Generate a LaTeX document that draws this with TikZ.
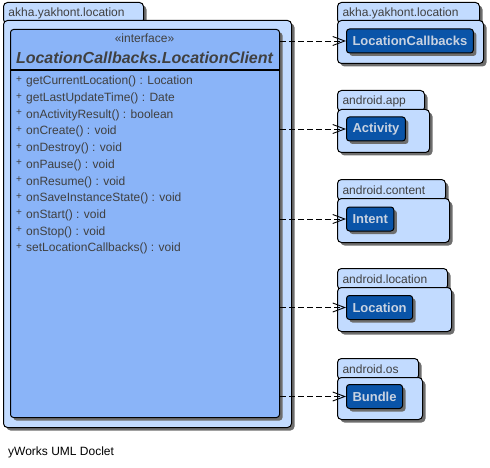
\documentclass[tikz,border=0pt]{standalone}
\usepackage{fontspec}
\setmainfont{Liberation Sans}
\usepackage{xcolor}
\usepackage{tikz}
\usetikzlibrary{shapes,arrows.meta,positioning,calc,shadows}
\definecolor{pkgcolor}{RGB}{194,219,255}
\definecolor{ifacecolor}{RGB}{138,180,248}
\definecolor{refcolor}{RGB}{10,84,168}
\definecolor{reftext}{RGB}{200,210,225}
\definecolor{textgray}{RGB}{64,64,64}
\definecolor{shadowgray}{RGB}{110,110,110}
\newcommand{\plusmark}{\makebox[10pt][l]{\raisebox{2.5pt}{\fontsize{10}{10}\selectfont +}}}

\begin{document}
\begin{tikzpicture}[
    x=1pt, y=-1pt,
    shade/.style={drop shadow={shadow xshift=3pt, shadow yshift=-3pt, fill=shadowgray, opacity=1}},
    pkgtab/.style={rectangle, draw, line width=1pt, fill=pkgcolor, shade, rounded corners=4pt, anchor=north west, minimum height=21pt, text width=#1, inner xsep=5pt, inner ysep=0pt, align=left, text=textgray, font=\fontsize{12}{12}\selectfont},
    pkgbody/.style={rectangle, draw, line width=1pt, fill=pkgcolor, shade, rounded corners=4pt, anchor=north west, inner sep=0pt},
    iface/.style={rectangle, draw, line width=1pt, fill=ifacecolor, shade, rounded corners=3pt, anchor=north west, inner sep=0pt},
    refbox/.style={rectangle, draw, line width=1pt, fill=refcolor, shade, rounded corners=3pt, anchor=west, minimum height=24pt, inner xsep=6pt, inner ysep=0pt, text=reftext, font=\fontsize{13}{13}\selectfont\bfseries},
    label/.style={inner sep=0pt, text=textgray},
    dep/.style={-{Straight Barb[length=12pt,width=9pt]}, dash pattern=on 6pt off 3pt, line width=0.9pt}
]
\useasboundingbox (0,0) rectangle (490,468);

% packages (tabs first, bodies over them)
\node[pkgtab=130pt] (tab0) at (3,2) {akha.yakhont.location};
\node[pkgtab=132pt] (tab1) at (337,2) {akha.yakhont.location};
\node[pkgtab=77pt] (tab2) at (337,90) {android.app};
\node[pkgtab=98pt] (tab3) at (337,179) {android.content};
\node[pkgtab=100pt] (tab4) at (337,268) {android.location};
\node[pkgtab=71pt] (tab5) at (337,358) {android.os};

\node[pkgbody, minimum width=288pt, minimum height=407pt] (pkg0) at (3,20) {};
\node[pkgbody, minimum width=146pt, minimum height=43pt] (pkg1) at (337,20) {};
\node[pkgbody, minimum width=92pt, minimum height=43pt] (pkg2) at (337,109) {};
\node[pkgbody, minimum width=112pt, minimum height=44pt] (pkg3) at (337,198) {};
\node[pkgbody, minimum width=114pt, minimum height=44pt] (pkg4) at (337,287) {};
\node[pkgbody, minimum width=85pt, minimum height=42pt] (pkg5) at (337,377) {};

% the interface
\node[iface, minimum width=269pt, minimum height=388pt] (client) at (10,29) {};
\node[label, font=\fontsize{12}{12}\selectfont] (stereo) at (144.5,38.5) {«interface»};
\node[label, font=\fontsize{16}{16}\selectfont\bfseries\itshape] (clsname) at (144.5,58) {LocationCallbacks.LocationClient};
\draw[line width=2pt] ($(client.north west)+(0,41)$) -- ($(client.north east)+(0,41)$);
\node[label, anchor=north west, align=left, font=\fontsize{12}{16.7}\selectfont] (members) at (16,76) {
    \plusmark getCurrentLocation() : Location\\
    \plusmark getLastUpdateTime() : Date\\
    \plusmark onActivityResult() : boolean\\
    \plusmark onCreate() : void\\
    \plusmark onDestroy() : void\\
    \plusmark onPause() : void\\
    \plusmark onResume() : void\\
    \plusmark onSaveInstanceState() : void\\
    \plusmark onStart() : void\\
    \plusmark onStop() : void\\
    \plusmark setLocationCallbacks() : void};

% referenced classes
\node[refbox] (lcb) at (346,41) {LocationCallbacks};
\node[refbox] (activity) at (346,129) {Activity};
\node[refbox] (intent) at (346,219) {Intent};
\node[refbox] (location) at (346,307.5) {Location};
\node[refbox] (bundle) at (346,396.5) {Bundle};

% dependencies
\draw[dep] (client.east |- lcb.west) -- (lcb.west);
\draw[dep] (client.east |- activity.west) -- (activity.west);
\draw[dep] (client.east |- intent.west) -- (intent.west);
\draw[dep] (client.east |- location.west) -- (location.west);
\draw[dep] (client.east |- bundle.west) -- (bundle.west);

\node[anchor=base west, inner sep=0pt, font=\fontsize{12}{12}\selectfont] (footer) at (8,455) {yWorks UML Doclet};
\end{tikzpicture}
\end{document}
